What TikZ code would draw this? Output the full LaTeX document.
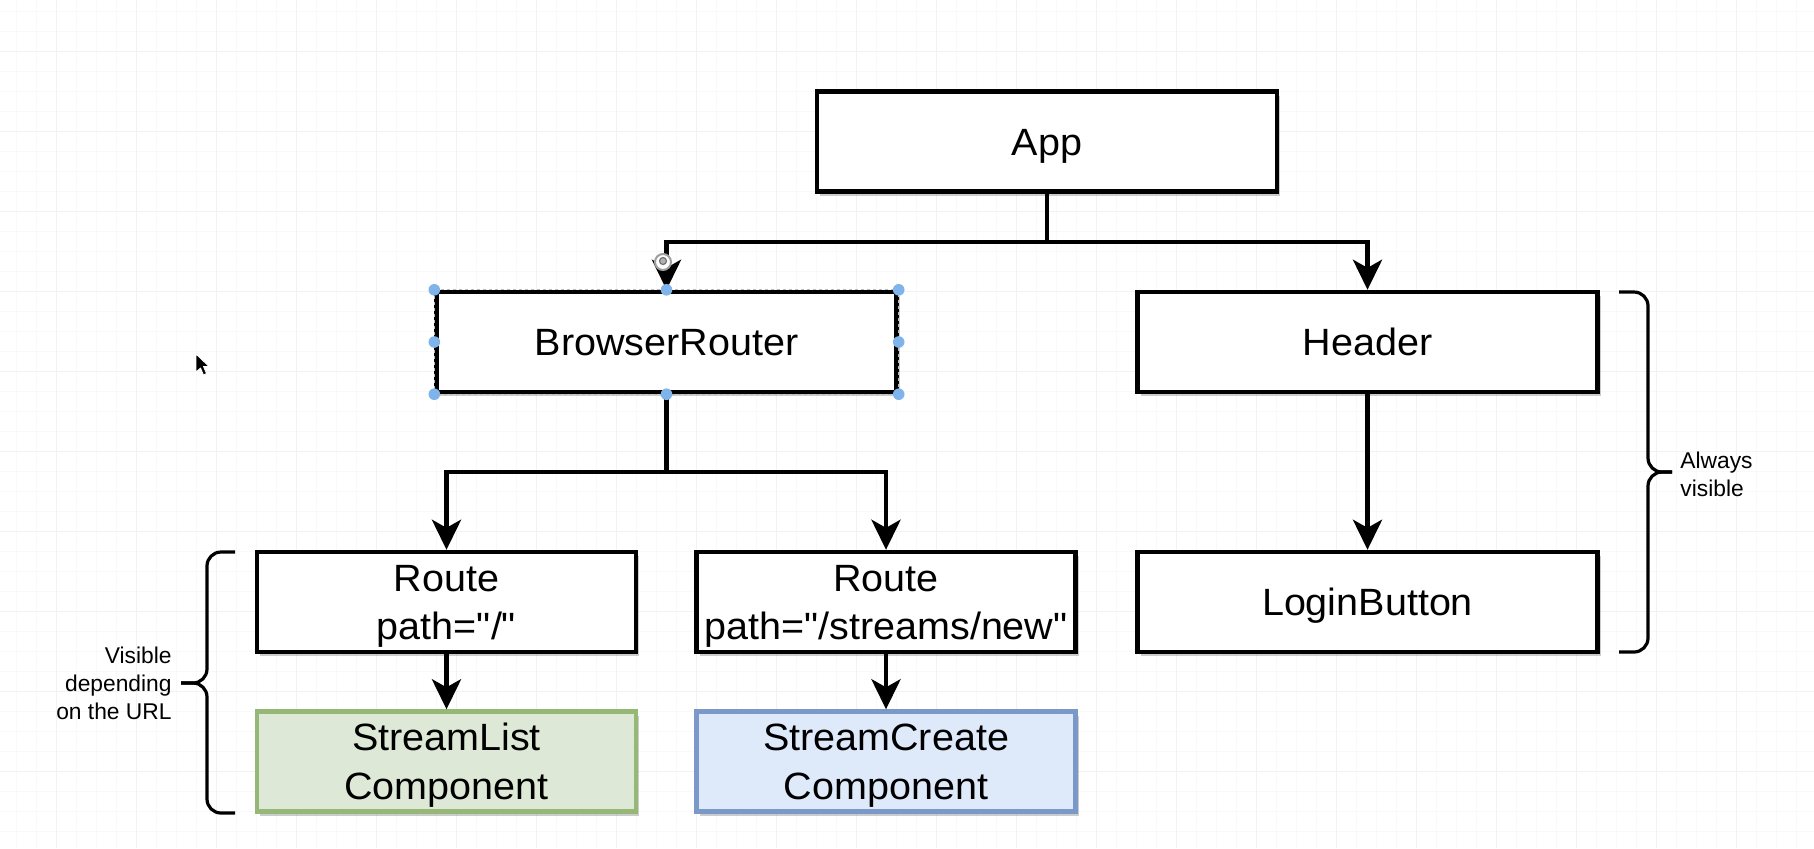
\documentclass[tikz,border=0pt]{standalone}
\usepackage{fontspec}
\setmainfont{Liberation Sans}
\newfontfamily\boxfont{Liberation Sans}[FakeStretch=1.04]
\usetikzlibrary{arrows.meta,calc,shadows}

\definecolor{gridminor}{RGB}{249,249,249}
\definecolor{gridmajor}{RGB}{242,242,242}
\definecolor{slfill}{RGB}{221,232,214}
\definecolor{sldraw}{RGB}{150,184,118}
\definecolor{scfill}{RGB}{222,233,250}
\definecolor{scdraw}{RGB}{122,152,200}
\definecolor{handle}{RGB}{126,180,234}

\tikzset{
  shade box/.style={drop shadow={shadow xshift=1.6pt, shadow yshift=-2.2pt, fill=black, opacity=0.2}},
  comp/.style={draw=black, line width=2.2pt, fill=white, inner sep=0pt,
    minimum width=230pt, minimum height=50pt, align=center,
    text height=13.6pt, text depth=0pt,
    font=\boxfont\fontsize{19}{24.3}\selectfont, shade box},
  narrow/.style={comp, minimum width=189.5pt, text height=37.9pt, text depth=0pt},
  wire/.style={line width=2.4pt},
  tipped/.style={wire, -{Stealth[length=15pt,width=14.5pt,inset=4pt]}},
  brace/.style={line width=1.6pt, rounded corners=7pt},
  note/.style={font=\fontsize{11.4}{14}\selectfont, inner sep=0pt},
  handledot/.style={fill=handle}
}

\begin{document}
\begin{tikzpicture}[x=0.5pt,y=-0.5pt]
  % canvas and drawing grid
  \fill[white] (0,0) rectangle (1814,848);
  \useasboundingbox (0,0) rectangle (1814,848);
  \foreach \x in {16,36,...,1814} \draw[gridminor, line width=0.5pt] (\x,0) -- (\x,848);
  \foreach \y in {11,31,...,848} \draw[gridminor, line width=0.5pt] (0,\y) -- (1814,\y);
  \foreach \x in {56,136,...,1814} \draw[gridmajor, line width=0.5pt] (\x,0) -- (\x,848);
  \foreach \y in {51,131,...,848} \draw[gridmajor, line width=0.5pt] (0,\y) -- (1814,\y);

  % component boxes
  \node[comp] (app) at (1047,141.5) {App};
  \node[comp] (br)  at (666.5,342) {BrowserRouter};
  \node[comp] (hdr) at (1367.5,342) {Header};
  \node[narrow] (r1) at (446.5,602) {Route\\path="/"};
  \node[narrow] (r2) at (886,602) {Route\\path="/streams/new"};
  \node[comp] (login) at (1367.5,602) {LoginButton};
  \node[narrow, fill=slfill, draw=sldraw] (sl) at (446.5,761.5) {StreamList\\Component};
  \node[narrow, fill=scfill, draw=scdraw] (sc) at (886,761.5) {StreamCreate\\Component};

  % connectors
  \coordinate (j1) at (1047,242);
  \coordinate (j2) at (666.5,472);
  \draw[wire] (app.south) -- (j1);
  \draw[tipped] (j1) -| (br.north);
  \draw[tipped] (j1) -| (hdr.north);
  \draw[wire] (br.south) -- (j2);
  \draw[tipped] (j2) -| (r1.north);
  \draw[tipped] (j2) -| (r2.north);
  \draw[tipped] (hdr.south) -- (login.north);
  \draw[tipped] (r1.south) -- (sl.north);
  \draw[tipped] (r2.south) -- (sc.north);

  % selection state of BrowserRouter
  \draw[gray!55, line width=0.6pt, dash pattern=on 1.5pt off 1.5pt]
    (br.north west) rectangle (br.south east);
  \foreach \a in {north west,north,north east,east,south east,south,south west,west}
    \fill[handledot] (br.\a) circle (5.8);

  % connection point marker on the BrowserRouter arrow
  \filldraw[fill=white, draw=gray!75, line width=1pt] (663,262) circle (8);
  \filldraw[fill=gray!60, draw=gray!90!black, line width=0.6pt] (663,261) circle (3.5);

  % braces and their labels
  \draw[brace] (235,552) -- (207,552) -- (207,683) -- (181,683);
  \draw[brace] (181,683) -- (207,683) -- (207,813) -- (235,813);
  \node[note, anchor=east, align=right] (url) at (172,683) {Visible\\depending\\on the URL};

  \draw[brace] (1619,292) -- (1648,292) -- (1648,472) -- (1672,472);
  \draw[brace] (1672,472) -- (1648,472) -- (1648,652) -- (1619,652);
  \node[note, anchor=west, align=left] (always) at (1680,474) {Always\\visible};

  % mouse pointer
  \filldraw[fill=black, draw=white, line width=0.4pt, line join=round]
    (196,354) -- (196,372) -- (200.5,368) -- (203.5,375) -- (206.5,373.5)
    -- (203.5,366.5) -- (209,366.5) -- cycle;
\end{tikzpicture}
\end{document}
